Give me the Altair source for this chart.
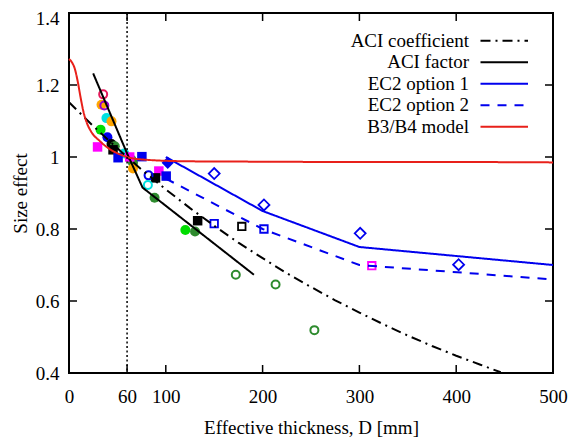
import altair as alt
import pandas as pd

W, H = 484, 360

# ---------------- data ----------------
series_names = ["ACI coefficient", "ACI factor", "EC2 option 1", "EC2 option 2", "B3/B4 model"]
series_colors = ["#000000", "#000000", "#0000ee", "#0000ee", "#e8201a"]
series_dashes = [[10, 5, 2, 5], [1, 0], [1, 0], [9, 8], [1, 0]]

aci_coef_D = [0, 25, 50, 60, 75, 100, 125, 150, 175, 200, 225, 250, 275, 300, 325, 350, 375, 400, 425, 446]
aci_coef_S = [1.152, 1.086, 1.024, 1.0, 0.965, 0.910, 0.858, 0.809, 0.762, 0.719, 0.677, 0.639,
              0.602, 0.568, 0.535, 0.504, 0.475, 0.448, 0.423, 0.402]

aci_fact_D = [25, 60, 76, 191]
aci_fact_S = [1.232, 1.01, 0.915, 0.673]

ec2_1_D = [100, 200, 300, 500]
ec2_1_S = [1.0, 0.85, 0.75, 0.70]

ec2_2_D = [100, 200, 300, 500]
ec2_2_S = [0.94, 0.80, 0.70, 0.66]

b3_D = [0, 2.5, 6, 9, 12, 15, 18, 23, 32, 42, 52, 60, 76, 124, 200, 300, 400, 500]
b3_S = [1.272, 1.265, 1.245, 1.21, 1.165, 1.125, 1.098, 1.07, 1.044, 1.022, 1.008, 1.0,
        0.993, 0.988, 0.987, 0.986, 0.986, 0.985]

# experimental points
fc_D = [33.6, 38.7, 43.9, 32.6, 39.7, 43.9, 47.3, 57.0, 64.4, 66.1, 66.1, 88.4, 120.2, 130.2]
fc_S = [1.145, 1.108, 1.099, 1.076, 1.055, 1.036, 1.030, 1.010, 0.993, 0.984, 0.968, 0.887, 0.797, 0.793]
fc_C = ["#ffa500", "#00e0e0", "#ffa500", "#00dd00", "#0000ee", "#000000", "#2e8b2e", "#00e0e0",
        "#2e8b2e", "#2e8b2e", "#ffa500", "#2e8b2e", "#00dd00", "#2e8b2e"]

fs_D = [29.5, 45.5, 50.7, 75.3, 62.7, 92.8, 100.4, 89.4, 132.9]
fs_S = [1.028, 1.020, 0.998, 1.001, 1.000, 0.961, 0.947, 0.942, 0.823]
fs_C = ["#ff00ff", "#000000", "#0000ee", "#0000ee", "#ff00ff", "#ff00ff", "#0000ee", "#000000", "#000000"]

fd_D = [102.0]
fd_S = [0.984]
fd_C = ["#0000ee"]

oc_D = [35.3, 36.5, 82.2, 81.5, 172.3, 213.4, 253.5]
oc_S = [1.174, 1.143, 0.949, 0.922, 0.673, 0.646, 0.519]
oc_C = ["#e6195a", "#9400d3", "#0000ee", "#00e0e0", "#2e8b2e", "#2e8b2e", "#2e8b2e"]

os_D = [150.0, 178.5, 201.4, 312.8]
os_S = [0.815, 0.807, 0.800, 0.698]
os_C = ["#0000ee", "#000000", "#0000ee", "#ff00ff"]

od_D = [150.0, 201.4, 300.8, 402.5]
od_S = [0.954, 0.867, 0.788, 0.701]
od_C = ["#0000ee", "#0000ee", "#0000ee", "#0000ee"]

x_ticks = [0, 60, 100, 200, 300, 400, 500]
y_ticks = [0.4, 0.6, 0.8, 1.0, 1.2, 1.4]
ref_D = [60]

# ---------------- tables ----------------
lines = pd.concat([
    pd.DataFrame({"D": aci_coef_D, "S": aci_coef_S, "series": series_names[0]}),
    pd.DataFrame({"D": aci_fact_D, "S": aci_fact_S, "series": series_names[1]}),
    pd.DataFrame({"D": ec2_1_D, "S": ec2_1_S, "series": series_names[2]}),
    pd.DataFrame({"D": ec2_2_D, "S": ec2_2_S, "series": series_names[3]}),
], ignore_index=True)
b3 = pd.DataFrame({"D": b3_D, "S": b3_S, "series": series_names[4]})

def pts(D, S, C):
    return pd.DataFrame({"D": D, "S": S, "c": C})

font = "Liberation Serif, Times New Roman, DejaVu Serif, serif"

X = alt.X("D:Q", scale=alt.Scale(domain=[0, 500], nice=False, zero=False),
          axis=alt.Axis(values=x_ticks, title="Effective thickness, D [mm]", ticks=False,
                        domain=False, grid=False, labelPadding=14, titlePadding=12, labelFlush=False))
Y = alt.Y("S:Q", scale=alt.Scale(domain=[0.4, 1.4], nice=False, zero=False),
          axis=alt.Axis(values=y_ticks, title="Size effect", format="~g", ticks=False,
                        domain=False, grid=False, labelPadding=10, titlePadding=5, labelFlush=False,
                        labelOffset={"condition": {"test": "datum.value >= 1.39", "value": 5}, "value": 0}))

col = alt.Color("series:N", scale=alt.Scale(domain=series_names, range=series_colors), legend=None)
dash = alt.StrokeDash("series:N", scale=alt.Scale(domain=series_names, range=series_dashes), legend=None)

fill_none = alt.Fill("c:N", scale=None)
stroke_none = alt.Stroke("c:N", scale=None)

filled_c = alt.Chart(pts(fc_D, fc_S, fc_C)).mark_point(shape="circle", filled=True, size=100, opacity=1).encode(x=X, y=Y, fill=fill_none)
filled_s = alt.Chart(pts(fs_D, fs_S, fs_C)).mark_point(shape="square", filled=True, size=90, opacity=1).encode(x=X, y=Y, fill=fill_none)
filled_d = alt.Chart(pts(fd_D, fd_S, fd_C)).mark_point(shape="diamond", filled=True, size=150, opacity=1).encode(x=X, y=Y, fill=fill_none)
open_c = alt.Chart(pts(oc_D, oc_S, oc_C)).mark_point(shape="circle", filled=False, size=64, strokeWidth=2, opacity=1).encode(x=X, y=Y, stroke=stroke_none)
open_s = alt.Chart(pts(os_D, os_S, os_C)).mark_point(shape="square", filled=False, size=56, strokeWidth=1.8, opacity=1).encode(x=X, y=Y, stroke=stroke_none)
open_d = alt.Chart(pts(od_D, od_S, od_C)).mark_point(shape="diamond", filled=False, size=120, strokeWidth=1.8, opacity=1).encode(x=X, y=Y, stroke=stroke_none)

line_layer = alt.Chart(lines).mark_line(strokeWidth=2).encode(x=X, y=Y, color=col, strokeDash=dash, detail="series:N")
b3_layer = alt.Chart(b3).mark_line(strokeWidth=2, interpolate="monotone").encode(x=X, y=Y, color=col, strokeDash=dash)

ref_line = alt.Chart(pd.DataFrame({"D": ref_D})).mark_rule(color="black", strokeWidth=1.5, strokeDash=[2, 2.5]).encode(x=X)

xt = pd.DataFrame({"D": x_ticks})
yt = pd.DataFrame({"S": y_ticks})
tick_b = alt.Chart(xt).mark_rule(color="black", strokeWidth=1.5).encode(x=X, y=alt.value(H), y2=alt.value(H - 8))
tick_t = alt.Chart(xt).mark_rule(color="black", strokeWidth=1.5).encode(x=X, y=alt.value(0), y2=alt.value(8))
tick_l = alt.Chart(yt).mark_rule(color="black", strokeWidth=1.5).encode(y=Y, x=alt.value(0), x2=alt.value(8))
tick_r = alt.Chart(yt).mark_rule(color="black", strokeWidth=1.5).encode(y=Y, x=alt.value(W), x2=alt.value(W - 8))

main = alt.layer(filled_c, filled_s, filled_d, open_c, open_s, open_d,
                 line_layer, b3_layer, ref_line, tick_b, tick_t, tick_l, tick_r)

leg_df = pd.DataFrame({"series": series_names})
LY = alt.Y("series:N", scale=alt.Scale(type="point", domain=series_names, range=[27.7, 113.7], padding=0), axis=None)
leg_text = alt.Chart(leg_df).mark_text(align="right", baseline="middle", font=font, fontSize=19, color="black").encode(
    x=alt.value(400), y=LY, text="series:N")
leg_rule = alt.Chart(leg_df).mark_rule(strokeWidth=2).encode(
    x=alt.value(411.5), x2=alt.value(459), y=LY, color=col, strokeDash=dash)
legend = alt.layer(leg_text, leg_rule)

chart = alt.layer(main, legend).resolve_scale(y="independent").properties(
    width=W, height=H,
    autosize=alt.AutoSizeParams(type="none"),
    padding={"left": 61, "top": 5, "right": 15, "bottom": 64},
).configure(font=font).configure_view(stroke="black", strokeWidth=2).configure_axis(
    labelFont=font, titleFont=font, labelFontSize=19, titleFontSize=19,
    labelColor="black", titleColor="black", titleFontWeight="normal"
)

chart.save("out.html", embed_options={"renderer": "svg", "actions": False})
